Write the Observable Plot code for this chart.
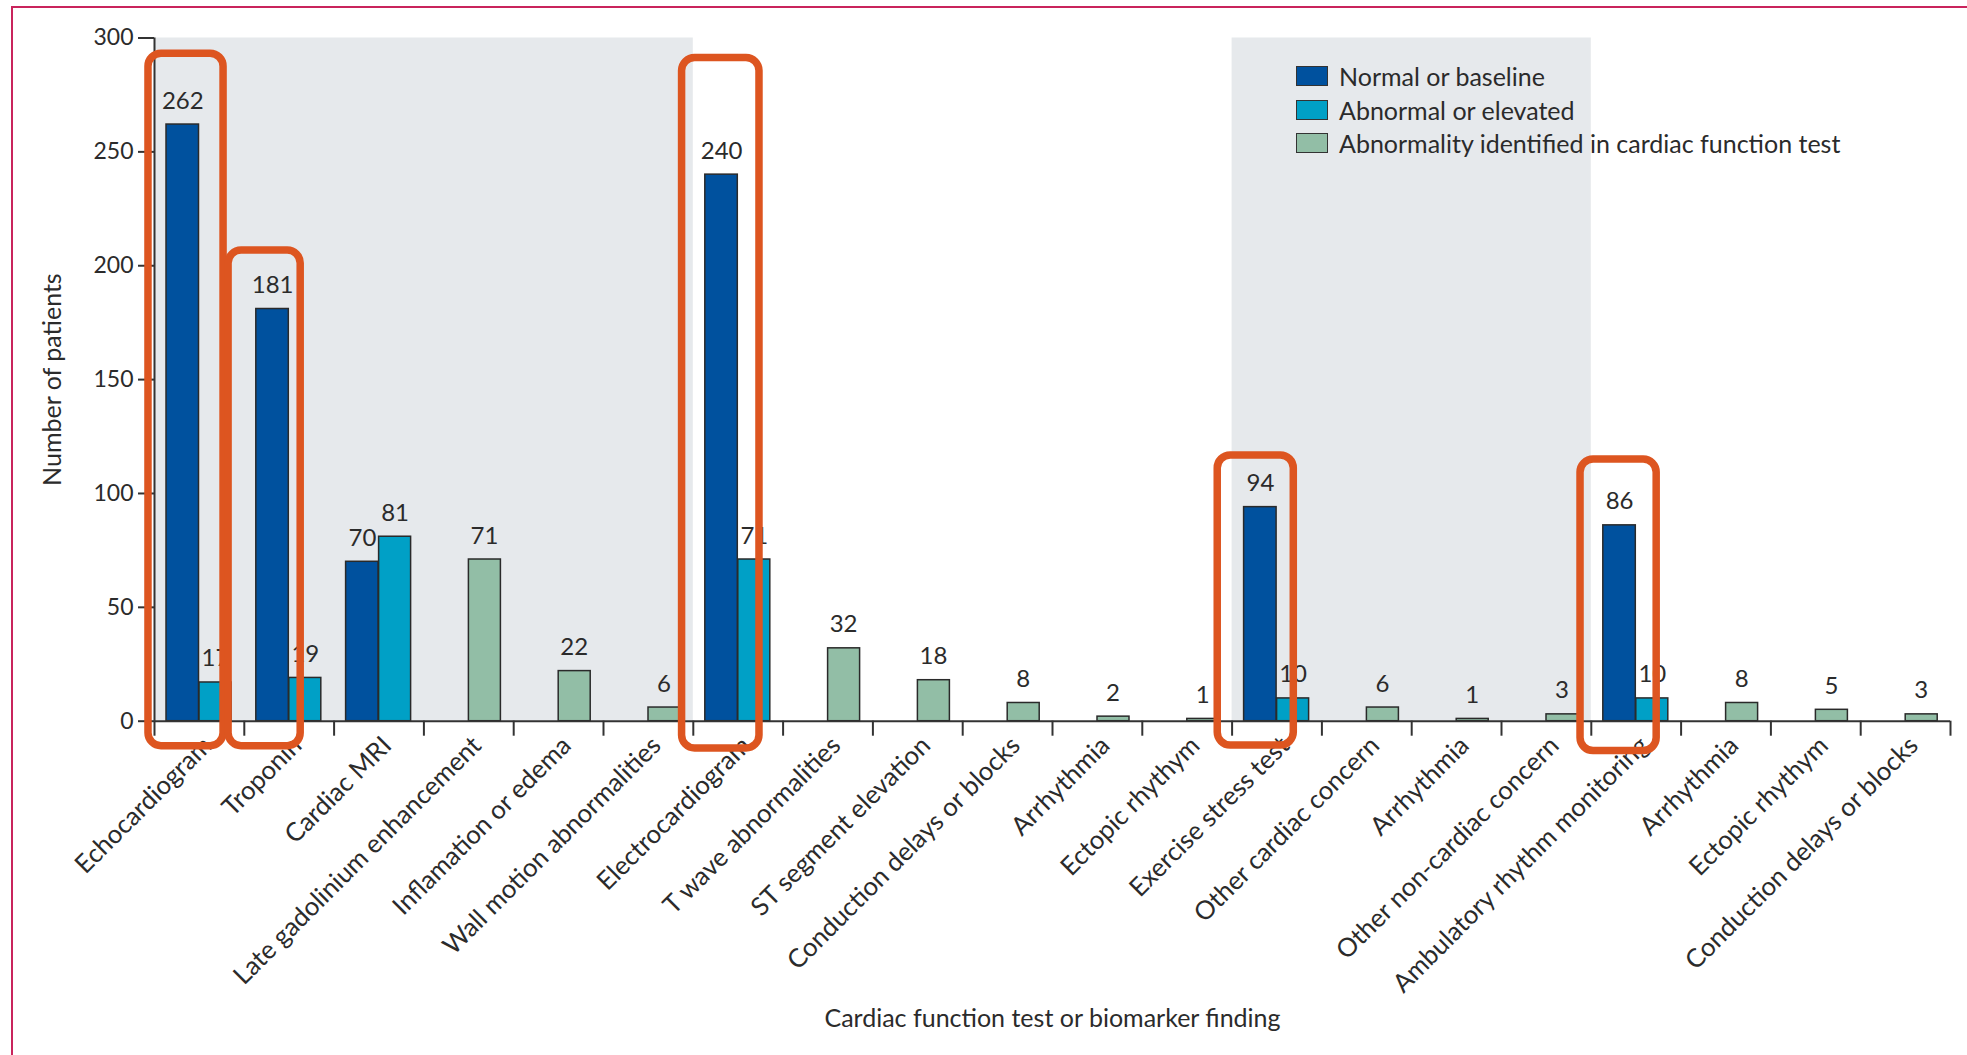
<!DOCTYPE html>
<html>
<head>
<meta charset="utf-8">
<script src="https://cdn.jsdelivr.net/npm/d3@7"></script>
<script src="https://cdn.jsdelivr.net/npm/@observablehq/plot@0.6"></script>
<style>
html, body { margin: 0; padding: 0; background: #fff; }
#wrap { position: relative; width: 1967px; height: 1055px; overflow: hidden; }
#frame { position: absolute; left: 11px; top: 6px; width: 2000px; height: 1100px; border-top: 2px solid #c9245c; border-left: 2px solid #c9245c; pointer-events: none; }
#chart { position: absolute; left: 0; top: 0; }
#legend { position: absolute; left: 1296px; top: 59px; font-family: Lato, "Liberation Sans", sans-serif; font-size: 25px; color: #2b2b2b; }
.row { display: flex; align-items: center; height: 33.7px; white-space: nowrap; }
.sw { width: 30px; height: 18px; border: 1.5px solid #333; margin-right: 11px; flex: none; }
</style>
</head>
<body>
<div id="wrap">
  <div id="chart"></div>
  <div id="legend"></div>
  <div id="frame"></div>
</div>
<script>
// ---------- data ----------
const categories = [
  "Echocardiogram", "Troponin", "Cardiac MRI", "Late gadolinium enhancement",
  "Inflamation or edema", "Wall motion abnormalities", "Electrocardiogram",
  "T wave abnormalities", "ST segment elevation", "Conduction delays or blocks",
  "Arrhythmia", "Ectopic rhythym", "Exercise stress test", "Other cardiac concern",
  "Arrhythmia", "Other non-cardiac concern", "Ambulatory rhythm monitoring",
  "Arrhythmia", "Ectopic rhythym", "Conduction delays or blocks"
];
const normalValues   = [262, 181, 70, null, null, null, 240, null, null, null, null, null, 94, null, null, null, 86, null, null, null];
const abnormalValues = [17, 19, 81, null, null, null, 71, null, null, null, null, null, 10, null, null, null, 10, null, null, null];
const findingValues  = [null, null, null, 71, 22, 6, null, 32, 18, 8, 2, 1, null, 6, 1, 3, null, 8, 5, 3];
const seriesNames = ["Normal or baseline", "Abnormal or elevated", "Abnormality identified in cardiac function test"];
const yTicks = [0, 50, 100, 150, 200, 250, 300];
// shaded test groups (category index range)
const shadedGroups = [{start: 0, end: 6}, {start: 12, end: 16}];
// highlight boxes (category-index units, patient-count units)
const highlights = [
  {x1: -0.067, x2: 0.769, y1: -11.0, y2: 293.1},
  {x1: 0.825, x2: 1.628, y1: -11.0, y2: 206.7},
  {x1: 5.875, x2: 6.737, y1: -12.0, y2: 291.2},
  {x1: 11.84, x2: 12.687, y1: -10.7, y2: 116.7},
  {x1: 15.88, x2: 16.728, y1: -13.1, y2: 114.9}
];
const xTitle = "Cardiac function test or biomarker finding";
const yTitle = "Number of patients";

// ---------- styles ----------
const colors = ["#00519e", "#00a0c6", "#92bea6"];
const ink = "#2b2b2b";
const font = "Lato, 'Liberation Sans', sans-serif";

const rows = categories.map((c, i) => ({i, c, normal: normalValues[i], abnormal: abnormalValues[i], finding: findingValues[i]}));
const nRows = rows.filter(d => d.normal != null);
const aRows = rows.filter(d => d.abnormal != null);
const fRows = rows.filter(d => d.finding != null);

const barStyle = {stroke: "#2a2a2a", strokeWidth: 1.5};
const leftSlot = {insetLeft: 12, insetRight: 45.3};
const rightSlot = {insetLeft: 45, insetRight: 12.8};
const labelStyle = {lineAnchor: "bottom", dy: -16, fontSize: 24, fill: ink};

const chart = Plot.plot({
  width: 1967,
  height: 1055,
  marginLeft: 154,
  marginRight: 17,
  marginTop: 37.5,
  marginBottom: 334.3,
  x: {domain: [0, categories.length]},
  y: {domain: [0, 300]},
  style: {fontFamily: font, color: ink, background: "transparent", overflow: "visible"},
  marks: [
    Plot.rect(shadedGroups, {x1: "start", x2: "end", y1: 0, y2: 300, fill: "#e6e9ec"}),
    Plot.rect(nRows, {x1: "i", x2: d => d.i + 1, y1: 0, y2: "normal", fill: colors[0], ...barStyle, ...leftSlot}),
    Plot.rect(aRows, {x1: "i", x2: d => d.i + 1, y1: 0, y2: "abnormal", fill: colors[1], ...barStyle, ...rightSlot}),
    Plot.rect(fRows, {x1: "i", x2: d => d.i + 1, y1: 0, y2: "finding", fill: colors[2], ...barStyle, ...rightSlot}),
    Plot.text(nRows, {x: d => d.i + 0.5, y: "normal", text: "normal", dx: -16.6, ...labelStyle}),
    Plot.text(aRows, {x: d => d.i + 0.5, y: "abnormal", text: "abnormal", dx: 16.1, ...labelStyle}),
    Plot.text(fRows, {x: d => d.i + 0.5, y: "finding", text: "finding", dx: 15.6, ...labelStyle}),
    Plot.ruleY([0], {stroke: "#333", strokeWidth: 2}),
    Plot.ruleX([0], {stroke: "#333", strokeWidth: 2}),
    Plot.axisX(d3.range(0, categories.length + 1), {tickSize: 15, tickFormat: () => "", stroke: "#333", strokeWidth: 2, label: null}),
    Plot.axisY(yTicks, {tickSize: 16, tickPadding: 5, fontSize: 23, stroke: "#333", strokeWidth: 2, fill: ink, label: null}),
    Plot.text(rows, {x: d => d.i + 0.5, y: 0, text: "c", rotate: -45, textAnchor: "end", lineAnchor: "bottom", dx: 14, dy: 26, fontSize: 25.7, fill: ink}),
    Plot.text([yTitle], {frameAnchor: "left", rotate: -90, textAnchor: "middle", lineAnchor: "bottom", dx: -94, fontSize: 25, fill: ink}),
    Plot.text([xTitle], {frameAnchor: "bottom", textAnchor: "middle", lineAnchor: "bottom", dy: 306, fontSize: 25, fill: ink}),
    Plot.rect(highlights, {x1: "x1", x2: "x2", y1: "y1", y2: "y2", fill: "none", stroke: "#dd5520", strokeWidth: 7.5, rx: 13})
  ]
});
document.getElementById("chart").appendChild(chart);

const legend = document.getElementById("legend");
seriesNames.forEach((name, k) => {
  const row = document.createElement("div");
  row.className = "row";
  const sw = document.createElement("div");
  sw.className = "sw";
  sw.style.background = colors[k];
  const t = document.createElement("span");
  t.textContent = name;
  row.appendChild(sw);
  row.appendChild(t);
  legend.appendChild(row);
});
</script>
</body>
</html>
